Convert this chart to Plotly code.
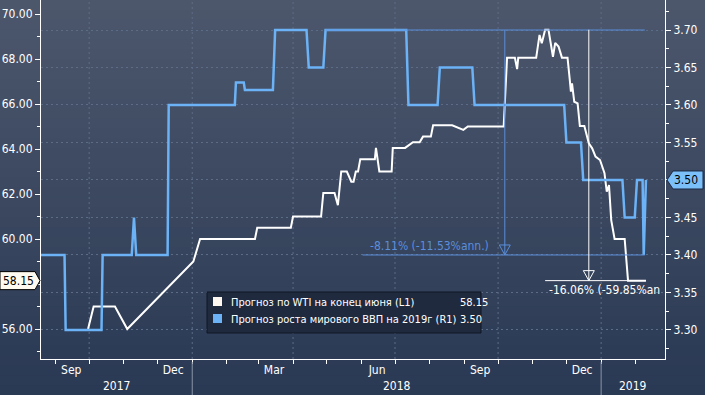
import plotly.graph_objects as go
import pandas as pd

# ---------------- data ----------------
wti_dates = ["2017-09-30", "2017-10-05", "2017-10-24", "2017-11-04", "2018-01-02", "2018-01-08",
             "2018-02-26", "2018-02-28", "2018-03-30", "2018-04-01", "2018-04-26", "2018-04-28",
             "2018-05-08", "2018-05-11", "2018-05-14", "2018-05-19", "2018-05-23", "2018-05-25",
             "2018-05-27", "2018-05-29", "2018-05-31", "2018-06-13", "2018-06-14", "2018-06-17",
             "2018-06-28", "2018-06-29", "2018-07-10", "2018-07-17", "2018-07-23", "2018-07-26",
             "2018-08-02", "2018-08-04", "2018-08-21", "2018-08-31", "2018-09-04", "2018-10-06",
             "2018-10-09", "2018-10-16", "2018-10-18", "2018-10-19", "2018-11-04", "2018-11-07",
             "2018-11-09", "2018-11-11", "2018-11-12", "2018-11-15", "2018-11-19", "2018-11-21",
             "2018-11-24", "2018-11-27", "2018-12-02", "2018-12-04", "2018-12-05", "2018-12-06",
             "2018-12-08", "2018-12-11", "2018-12-13", "2018-12-17", "2018-12-21", "2018-12-24",
             "2018-12-27", "2018-12-31", "2019-01-02", "2019-01-04", "2019-01-06", "2019-01-08",
             "2019-01-10", "2019-01-13", "2019-01-22", "2019-01-25", "2019-02-10"]
wti_values = [56.0, 57.0, 57.0, 56.0, 59.0, 60.0,
              60.0, 60.5, 60.5, 61.0, 61.0, 62.05,
              62.05, 61.5, 63.0, 63.0, 62.55, 62.55,
              63.0, 63.0, 63.55, 63.55, 64.05, 63.0,
              63.0, 64.05, 64.05, 64.3, 64.3, 64.55,
              64.55, 65.05, 65.05, 64.85, 65.0, 65.0,
              68.05, 68.05, 67.55, 68.05, 68.05, 69.07,
              68.7, 69.14, 69.3, 69.3, 68.1, 68.72,
              68.55, 68.06, 68.06, 67.07, 66.55, 66.92,
              66.1, 66.03, 65.02, 65.02, 64.25, 64.03,
              63.66, 63.51, 63.21, 62.92, 62.1, 62.4,
              60.84, 60.0, 60.0, 58.15, 58.15]

gdp_dates = ["2017-08-19", "2017-09-09", "2017-09-10", "2017-10-12", "2017-10-13", "2017-11-08",
             "2017-11-10", "2017-11-12", "2017-12-10", "2017-12-11", "2018-02-08", "2018-02-09",
             "2018-02-16", "2018-02-17", "2018-03-14", "2018-03-16", "2018-04-13", "2018-04-15",
             "2018-04-28", "2018-04-30", "2018-07-11", "2018-07-13", "2018-08-08", "2018-08-10",
             "2018-09-08", "2018-09-10", "2018-11-29", "2018-12-01", "2018-12-14", "2018-12-16",
             "2019-01-20", "2019-01-22", "2019-01-31", "2019-02-02", "2019-02-07", "2019-02-08",
             "2019-02-10"]
gdp_values = [3.40, 3.40, 3.30, 3.30, 3.40, 3.40,
              3.45, 3.40, 3.40, 3.60, 3.60, 3.63,
              3.63, 3.62, 3.62, 3.70, 3.70, 3.65,
              3.65, 3.70, 3.70, 3.60, 3.60, 3.65,
              3.65, 3.60, 3.60, 3.55, 3.55, 3.50,
              3.50, 3.45, 3.45, 3.50, 3.50, 3.40,
              3.50]

wti_name = "Прогноз по WTI на конец июня (L1)"
gdp_name = "Прогноз роста мирового ВВП на 2019г (R1)"
wti_last_label = "58.15"
gdp_last_label = "3.50"

left_ticks = [56, 58, 60, 62, 64, 66, 68, 70]
left_minor = [55, 57, 59, 61, 63, 65, 67, 69]
right_ticks = [3.30, 3.35, 3.40, 3.45, 3.50, 3.55, 3.60, 3.65, 3.70]
right_minor = [3.275, 3.325, 3.375, 3.425, 3.475, 3.525, 3.575, 3.625, 3.675, 3.725]

month_label_dates = ["2017-09-15", "2017-12-15", "2018-03-15", "2018-06-15", "2018-09-15", "2018-12-15"]
month_labels = ["Sep", "Dec", "Mar", "Jun", "Sep", "Dec"]
month_tick_dates = [d.strftime("%Y-%m-%d") for d in pd.date_range("2017-09-01", "2019-02-01", freq="MS")]
quarter_grid_dates = ["2017-10-01", "2018-01-01", "2018-04-01", "2018-07-01", "2018-10-01", "2019-01-01"]
year_starts = ["2018-01-01", "2019-01-01"]
year_labels = ["2017", "2018", "2019"]

x_range = ["2017-08-19", "2019-02-27"]
left_range = [54.667, 70.622]
right_range = [3.2613, 3.74]

# percentage-change annotations (Bloomberg tool)
gdp_chg_text = "-8.11% (-11.53%ann.)"
gdp_chg_x = "2018-10-07"
gdp_chg_top_start = "2018-04-30"
gdp_chg_bot_start = "2018-06-02"
gdp_chg_end = "2019-02-09"
gdp_chg_hi, gdp_chg_lo = 3.70, 3.40

wti_chg_text = "-16.06% (-59.85%an"
wti_chg_x = "2018-12-21"

# ---------------- style ----------------
FONT = "Liberation Sans Narrow, DejaVu Sans Condensed, Liberation Sans, sans-serif"
W, H = 705, 395
ML, MR, MT, MB = 41, 40, 0, 36
PW, PH = W - ML - MR, H - MT - MB
WHITE = "#ffffff"
BLUE = "#6bb2f6"
ANN_BLUE = "#5b8edb"
GRID = "#5d6c86"


def px(x):
    return (x - ML) / PW


def py(y):
    return (H - MB - y) / PH


fig = go.Figure()
fig.add_trace(go.Scatter(x=gdp_dates, y=gdp_values, yaxis="y2", mode="lines",
                         line=dict(color=BLUE, width=2.5), name=gdp_name, showlegend=False))
fig.add_trace(go.Scatter(x=wti_dates, y=wti_values, yaxis="y", mode="lines",
                         line=dict(color=WHITE, width=2), name=wti_name, showlegend=False))

shapes = []
# background gradient bands
top_rgb = (0x4c, 0x57, 0x6c)
bot_rgb = (0x2a, 0x39, 0x54)
nb = 40
for i in range(nb):
    t = i / (nb - 1)
    c = tuple(round(top_rgb[k] + (bot_rgb[k] - top_rgb[k]) * t) for k in range(3))
    y0 = H * i / nb
    y1 = H * (i + 1) / nb + 1
    shapes.append(dict(type="rect", xref="paper", yref="paper", x0=px(0), x1=px(W),
                       y0=py(y1), y1=py(y0), fillcolor="rgb(%d,%d,%d)" % c,
                       line=dict(width=0), layer="below"))

# vertical quarter gridlines
for d in quarter_grid_dates:
    shapes.append(dict(type="line", xref="x", yref="paper", x0=d, x1=d, y0=0, y1=1,
                       line=dict(color=GRID, width=1, dash="2px,3px"), layer="below"))
# year separators under the axis
for d in year_starts:
    shapes.append(dict(type="line", xref="x", yref="paper", x0=d, x1=d, y0=py(362), y1=py(H),
                       line=dict(color="#8a94a6", width=1)))

# GDP change annotation lines
shapes.append(dict(type="line", xref="x", yref="y2", x0=gdp_chg_top_start, x1=gdp_chg_end,
                   y0=gdp_chg_hi, y1=gdp_chg_hi, line=dict(color=ANN_BLUE, width=1)))
shapes.append(dict(type="line", xref="x", yref="y2", x0=gdp_chg_bot_start, x1=gdp_chg_end,
                   y0=gdp_chg_lo, y1=gdp_chg_lo, line=dict(color=ANN_BLUE, width=1)))
shapes.append(dict(type="line", xref="x", yref="y2", x0=gdp_chg_x, x1=gdp_chg_x,
                   y0=gdp_chg_hi, y1=gdp_chg_lo, line=dict(color=ANN_BLUE, width=1)))
shapes.append(dict(type="path", xref="x", yref="y2", xsizemode="pixel", ysizemode="pixel",
                   xanchor=gdp_chg_x, yanchor=gdp_chg_lo, path="M-5.5,10 L5.5,10 L0,0 Z",
                   line=dict(color=ANN_BLUE, width=1)))

# WTI change annotation lines
wti_peak = max(wti_values)
wti_peak_date = wti_dates[wti_values.index(wti_peak)]
wti_last = wti_values[-1]
shapes.append(dict(type="line", xref="x", yref="y", x0=wti_peak_date, x1=wti_dates[-1],
                   y0=wti_last, y1=wti_last, line=dict(color=WHITE, width=1)))
shapes.append(dict(type="line", xref="x", yref="y", x0=wti_chg_x, x1=wti_chg_x,
                   y0=wti_peak, y1=wti_last, line=dict(color=WHITE, width=1)))
shapes.append(dict(type="path", xref="x", yref="y", xsizemode="pixel", ysizemode="pixel",
                   xanchor=wti_chg_x, yanchor=wti_last, path="M-5.5,10 L5.5,10 L0,0 Z",
                   line=dict(color=WHITE, width=1)))

# legend box
shapes.append(dict(type="rect", xref="paper", yref="paper", x0=px(207), x1=px(481),
                   y0=py(333), y1=py(292), fillcolor="#1f2a3f",
                   line=dict(color="#101724", width=1)))
shapes.append(dict(type="rect", xref="paper", yref="paper", x0=px(213), x1=px(222),
                   y0=py(306), y1=py(297), fillcolor="#fff8f0", line=dict(width=0)))
shapes.append(dict(type="rect", xref="paper", yref="paper", x0=px(213), x1=px(222),
                   y0=py(323), y1=py(314), fillcolor=BLUE, line=dict(width=0)))

# last-value tags on the axes
shapes.append(dict(type="path", xref="paper", yref="y", xsizemode="pixel", ysizemode="pixel",
                   xanchor=0, yanchor=wti_last, path="M-41,-9 L-6,-9 L-1,0 L-6,9 L-41,9 Z",
                   fillcolor="#fffaf0", line=dict(color="#000000", width=1)))
shapes.append(dict(type="path", xref="paper", yref="y2", xsizemode="pixel", ysizemode="pixel",
                   xanchor=1, yanchor=gdp_values[-1], path="M2,0 L8,-9 L38,-9 L38,9 L8,9 Z",
                   fillcolor="#7cc0fa", line=dict(color="#1b2a44", width=1)))

annotations = []
for lbl, d0, d1 in zip(year_labels, [x_range[0]] + year_starts, year_starts + [x_range[1]]):
    mid = pd.Timestamp(d0) + (pd.Timestamp(d1) - pd.Timestamp(d0)) / 2
    annotations.append(dict(x=mid, xref="x", y=py(386), yref="paper", text=lbl, showarrow=False,
                            font=dict(color=WHITE, size=12, family=FONT), yanchor="middle"))

annotations.append(dict(x=gdp_chg_x, xref="x", y=gdp_chg_lo, yref="y2", text=gdp_chg_text,
                        showarrow=False, xanchor="right", yanchor="bottom", xshift=-14, yshift=0,
                        font=dict(color=ANN_BLUE, size=12, family=FONT)))
annotations.append(dict(x=wti_peak_date, xref="x", y=wti_last, yref="y", text=wti_chg_text,
                        showarrow=False, xanchor="left", yanchor="top", xshift=2, yshift=0,
                        font=dict(color=WHITE, size=12, family=FONT)))

annotations.append(dict(x=px(229), xref="paper", y=py(302), yref="paper", text=wti_name,
                        showarrow=False, xanchor="left", yanchor="middle",
                        font=dict(color=WHITE, size=11, family=FONT)))
annotations.append(dict(x=px(229), xref="paper", y=py(319), yref="paper", text=gdp_name,
                        showarrow=False, xanchor="left", yanchor="middle",
                        font=dict(color=WHITE, size=11, family=FONT)))
annotations.append(dict(x=px(458), xref="paper", y=py(302), yref="paper", text=wti_last_label,
                        showarrow=False, xanchor="left", yanchor="middle",
                        font=dict(color=WHITE, size=11, family=FONT)))
annotations.append(dict(x=px(458), xref="paper", y=py(319), yref="paper", text=gdp_last_label,
                        showarrow=False, xanchor="left", yanchor="middle",
                        font=dict(color=WHITE, size=11, family=FONT)))

annotations.append(dict(x=0, xref="paper", y=wti_last, yref="y", text=wti_last_label,
                        showarrow=False, xanchor="right", yanchor="middle", xshift=-5,
                        font=dict(color="#000000", size=12, family=FONT)))
annotations.append(dict(x=1, xref="paper", y=gdp_values[-1], yref="y2", text=gdp_last_label,
                        showarrow=False, xanchor="left", yanchor="middle", xshift=7,
                        font=dict(color="#000000", size=12, family=FONT)))

# axis labels hidden under the value tags are left blank
left_text = ["" if v == 58 else "%.2f" % v for v in left_ticks]
right_text = ["" if abs(v - 3.50) < 1e-9 else "%.2f" % v for v in right_ticks]

fig.update_layout(
    width=W, height=H,
    margin=dict(l=ML, r=MR, t=MT, b=MB),
    paper_bgcolor="#2a3954",
    plot_bgcolor="rgba(0,0,0,0)",
    font=dict(family=FONT, color=WHITE, size=12),
    showlegend=False,
    shapes=shapes,
    annotations=annotations,
    xaxis=dict(range=x_range, type="date", tickmode="array", tickvals=month_label_dates,
               ticktext=month_labels, ticks="", showgrid=False, zeroline=False,
               showline=True, linecolor=WHITE, linewidth=1, automargin=False,
               tickfont=dict(color=WHITE, size=12, family=FONT),
               minor=dict(tickmode="array", tickvals=month_tick_dates, ticks="outside",
                          ticklen=4, tickcolor=WHITE, showgrid=False)),
    yaxis=dict(range=left_range, tickmode="array", tickvals=left_ticks,
               ticktext=left_text, ticks="outside", ticklen=5, automargin=False,
               tickcolor=WHITE, showgrid=False, zeroline=False, showline=True,
               linecolor=WHITE, linewidth=1, tickfont=dict(color=WHITE, size=12, family=FONT),
               minor=dict(tickmode="array", tickvals=left_minor, ticks="outside", ticklen=3,
                          tickcolor=WHITE, showgrid=False)),
    yaxis2=dict(range=right_range, overlaying="y", side="right", tickmode="array",
                tickvals=right_ticks, ticktext=right_text, automargin=False,
                ticks="outside", ticklen=5, tickcolor=WHITE, showgrid=True, gridcolor=GRID,
                griddash="2px,3px", gridwidth=1, zeroline=False, showline=True,
                linecolor=WHITE, linewidth=1, tickfont=dict(color=WHITE, size=12, family=FONT),
                minor=dict(tickmode="array", tickvals=right_minor, ticks="outside", ticklen=3,
                           tickcolor=WHITE, showgrid=False)),
)

fig.write_html("out.html", config={"displayModeBar": False},
               post_script="document.body.style.margin='0px';")
